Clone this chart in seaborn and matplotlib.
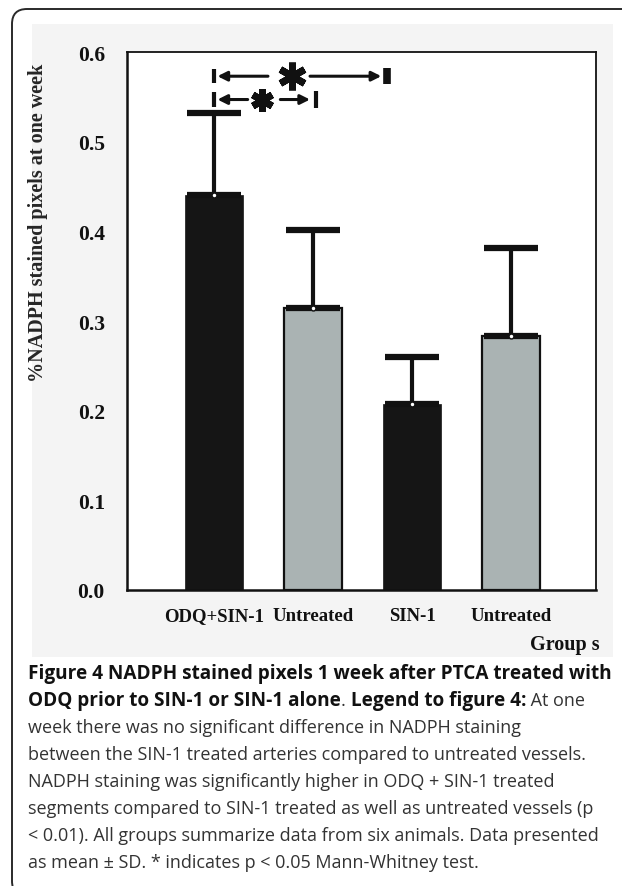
import numpy as np
import pandas as pd
import seaborn as sns
import matplotlib.pyplot as plt
from matplotlib.patches import FancyBboxPatch, Rectangle

# values
keys = ['odq_sin1', 'untreated_a', 'sin1', 'untreated_b']
labels = ['ODQ+SIN-1', 'Untreated', 'SIN-1', 'Untreated']
means = [0.441, 0.314, 0.207, 0.283]
sds = [0.091, 0.088, 0.053, 0.098]
colors = ['#151515', '#a8b4b4', '#151515', '#a8b4b4']
yticks = [0.0, 0.1, 0.2, 0.3, 0.4, 0.5, 0.6]

caption = [
    [('Figure 4 NADPH stained pixels 1 week after PTCA treated with', 'bold')],
    [('ODQ prior to SIN-1 or SIN-1 alone', 'bold'), ('.', 'normal'),
     (' Legend to figure 4:', 'bold'), (' At one', 'normal')],
    [('week there was no significant difference in NADPH staining', 'normal')],
    [('between the SIN-1 treated arteries compared to untreated vessels.', 'normal')],
    [('NADPH staining was significantly higher in ODQ + SIN-1 treated', 'normal')],
    [('segments compared to SIN-1 treated as well as untreated vessels (p', 'normal')],
    [('< 0.01). All groups summarize data from six animals. Data presented', 'normal')],
    [('as mean \u00b1 SD. * indicates p < 0.05 Mann-Whitney test.', 'normal')],
]

df = pd.DataFrame({'key': keys, 'mean': means, 'sd': sds})

sns.set_style('white')
plt.rcParams['font.family'] = ['Liberation Serif', 'DejaVu Serif']

W, H = 622, 887
fig = plt.figure(figsize=(W / 100, H / 100), dpi=100)
fig.patch.set_facecolor('white')

# light grey panel behind the chart + rounded card border
fig.add_artist(Rectangle((32 / W, 1 - 658 / H), (613 - 32) / W, (658 - 25) / H,
                         transform=fig.transFigure, facecolor='#f4f4f4',
                         edgecolor='none', zorder=0))
fig.add_artist(FancyBboxPatch((0.12, -0.1), 6.6, 8.77 + 0.1,
                              boxstyle='round,pad=0,rounding_size=0.15',
                              transform=fig.dpi_scale_trans, facecolor='none',
                              edgecolor='#2a2a2a', linewidth=1.4, zorder=1))

ax = fig.add_axes([127 / W, 1 - 591 / H, (596 - 127) / W, (591 - 53) / H])
ax.set_facecolor('white')

sns.barplot(data=df, x='key', y='mean', hue='key', palette=colors, width=0.59,
            legend=False, ax=ax, zorder=2)
for p, c in zip(ax.patches, colors):
    if c == '#151515':
        p.set_edgecolor(c)
        p.set_linewidth(0.5)
    else:
        p.set_edgecolor('#111111')
        p.set_linewidth(1.6)

xpos = np.arange(len(keys))
ax.errorbar(xpos, means, yerr=[[0, 0, 0, 0], sds], fmt='none', ecolor='#111111',
            elinewidth=3.0, capsize=19.5, capthick=4.5, zorder=3)
ax.plot(xpos, means, 'o', ms=3.5, mfc='white', mec='#111111', mew=1.0, zorder=4)

ax.set_xlim(-0.879, 3.859)
ax.set_ylim(0, 0.6)
ax.set_yticks(yticks)
ax.set_yticklabels(['%.1f' % t for t in yticks])
ax.set_xticks(xpos)
ax.set_xticklabels(labels)
ax.set_xlabel('')
ax.set_ylabel('%NADPH stained pixels at one week', fontsize=14.5, fontweight='bold')
ax.yaxis.set_label_coords(-0.168, 0.684)

for lab in ax.get_yticklabels():
    lab.set_fontsize(15.5)
    lab.set_fontweight('bold')
for lab in ax.get_xticklabels():
    lab.set_fontsize(13.5)
    lab.set_fontweight('bold')
ax.tick_params(axis='y', direction='out', length=3, width=1.5, pad=13, colors='#111111')
ax.tick_params(axis='x', direction='out', length=3, width=1.5, pad=9, colors='#111111')
for s in ax.spines.values():
    s.set_visible(True)
    s.set_color('#111111')
    s.set_linewidth(1.3)
ax.spines['left'].set_linewidth(1.8)
ax.spines['bottom'].set_linewidth(1.8)

fig.text(600 / W, 1 - 645 / H, 'Group s', ha='right', va='center',
         fontsize=14.5, fontweight='bold', color='#111111')

# significance brackets
k = '#111111'
def bracket(x0, x1, y, tail_l, tail_r, xs, ssize, bar_w_r):
    ax.plot([x0, x0], [y - 0.008, y + 0.008], color=k, lw=3.0, solid_capstyle='butt', zorder=5)
    ax.plot([x1, x1], [y - 0.009, y + 0.009], color=k, lw=bar_w_r, solid_capstyle='butt', zorder=5)
    ax.annotate('', xy=(x0 + 0.04, y), xytext=(tail_l, y),
                arrowprops=dict(arrowstyle='-|>', color=k, lw=2.2, mutation_scale=14,
                                shrinkA=0, shrinkB=0), zorder=5)
    ax.annotate('', xy=(x1 - 0.06, y), xytext=(tail_r, y),
                arrowprops=dict(arrowstyle='-|>', color=k, lw=2.2, mutation_scale=14,
                                shrinkA=0, shrinkB=0), zorder=5)
    ax.plot([xs], [y], marker=(6, 2, 0), ms=ssize, mew=5, color=k, zorder=5)

bracket(-0.005, 1.75, 0.573, 0.545, 0.97, 0.79, 20, 5.5)
bracket(-0.005, 1.03, 0.547, 0.34, 0.67, 0.485, 16, 3.0)

# caption
y0 = 674
lh = 27
fig.canvas.draw()
r = fig.canvas.get_renderer()
for i, line in enumerate(caption):
    x = 28
    for txt, wt in line:
        t = fig.text(x / W, 1 - (y0 + i * lh) / H, txt, ha='left', va='center',
                     fontsize=13.7 if wt == 'bold' else 13.0, fontweight=wt,
                     family=['Open Sans', 'DejaVu Sans'],
                     color='#111111' if wt == 'bold' else '#333333')
        x += t.get_window_extent(renderer=r).width

fig.savefig('out.png', dpi=100)
